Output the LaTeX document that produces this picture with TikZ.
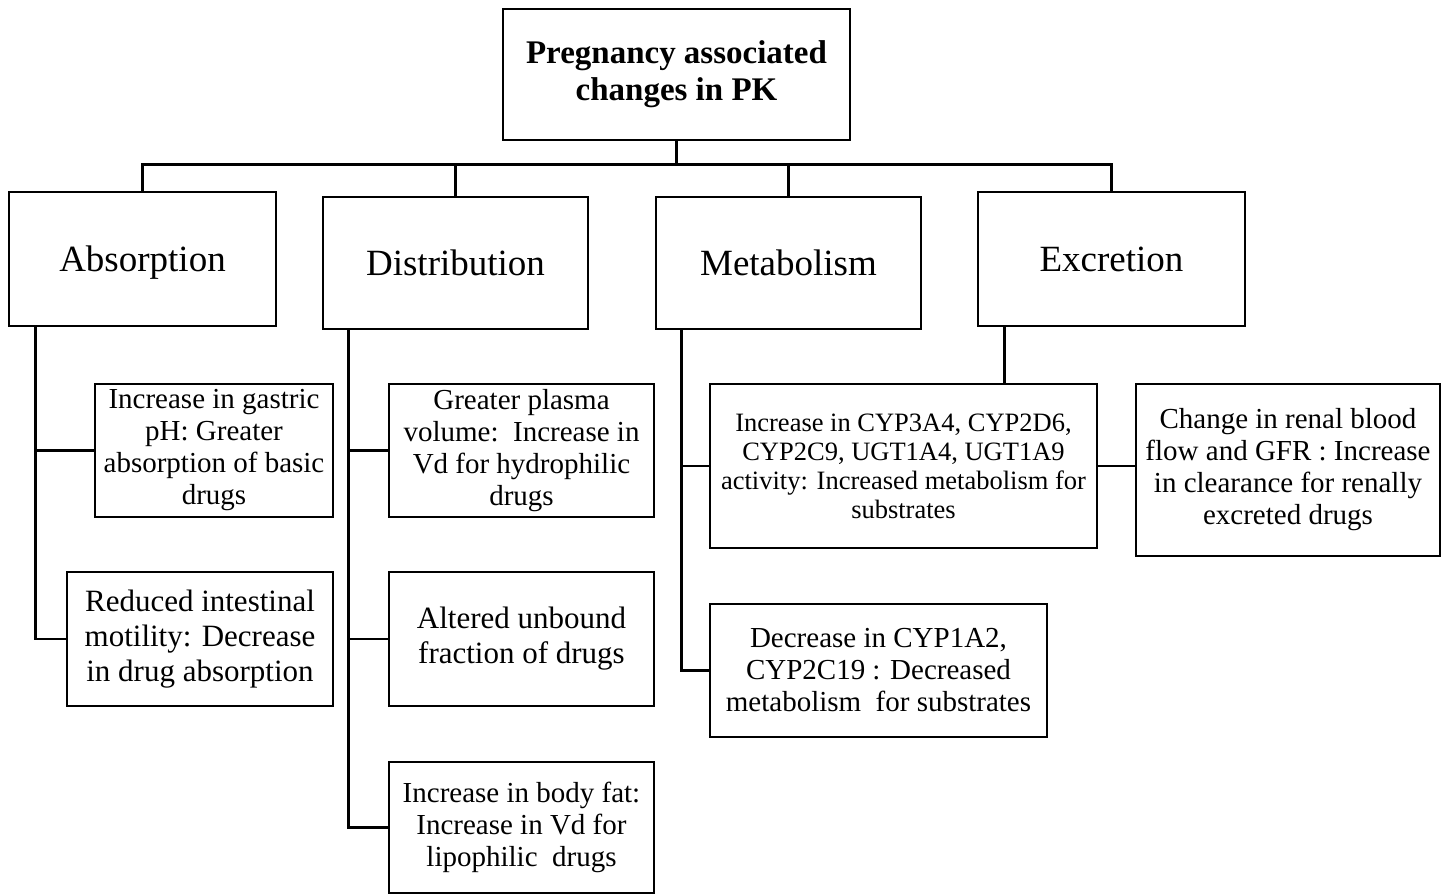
\documentclass[tikz,border=0pt]{standalone}
\usepackage{fontspec}
\setmainfont{Liberation Serif}
\usetikzlibrary{positioning}

\begin{document}
\begin{tikzpicture}[
  x=1pt, y=-1pt,
  line width=2.6pt,
  box/.style={draw, line width=2.6pt, align=center, inner sep=2pt},
  rootbox/.style={box, font=\fontsize{33}{37}\selectfont\bfseries},
  phasebox/.style={box, text depth=0pt, font=\fontsize{37}{42}\selectfont},
  notebox/.style={box, font=\fontsize{29}{32}\selectfont},
  bignote/.style={box, font=\fontsize{31}{35}\selectfont},
  smallnote/.style={box, font=\fontsize{26.5}{29}\selectfont}
]
\useasboundingbox (0,0) rectangle (1454,894);

% root and the four phases
\node[rootbox, minimum width=347pt, minimum height=131pt] (pk) at (676.5,74.5)
  {Pregnancy associated\\ changes in PK};
\node[phasebox, minimum width=267pt, minimum height=134pt] (abs) at (142.5,259) {Absorption};
\node[phasebox, minimum width=265pt, minimum height=132pt] (dist) at (455.5,263) {Distribution};
\node[phasebox, minimum width=265pt, minimum height=132pt] (met) at (788.5,263) {Metabolism};
\node[phasebox, minimum width=267pt, minimum height=134pt] (exc) at (1111.5,259) {Excretion};

% absorption
\node[notebox, minimum width=238pt, minimum height=133pt] (gastric) at (214,450.5)
  {Increase in gastric\\ pH: Greater\\ absorption of basic\\ drugs};
\node[bignote, minimum width=266pt, minimum height=134pt] (motility) at (200,639)
  {Reduced intestinal\\ motility: Decrease\\ in drug absorption};

% distribution
\node[notebox, minimum width=265pt, minimum height=133pt] (plasma) at (521.5,450.5)
  {Greater plasma\\ volume:\ \ Increase in\\ Vd for hydrophilic\\ drugs};
\node[bignote, minimum width=265pt, minimum height=134pt] (unbound) at (521.5,639)
  {Altered unbound\\ fraction of drugs};
\node[notebox, minimum width=265pt, minimum height=131pt] (fat) at (521.5,827.5)
  {Increase in body fat:\\ Increase in Vd for\\ lipophilic\ \ drugs};

% metabolism
\node[smallnote, minimum width=387pt, minimum height=164pt] (cypup) at (903.5,466)
  {Increase in CYP3A4, CYP2D6,\\ CYP2C9, UGT1A4, UGT1A9\\ activity: Increased metabolism for\\ substrates};
\node[notebox, minimum width=337pt, minimum height=133pt] (cypdown) at (878.5,670.5)
  {Decrease in CYP1A2,\\ CYP2C19 : Decreased\\ metabolism\ \ for substrates};

% excretion
\node[notebox, minimum width=304pt, minimum height=172pt] (renal) at (1288,470)
  {Change in renal blood\\ flow and GFR : Increase\\ in clearance for renally\\ excreted drugs};

% tree lines
\draw (pk.south) -- ++(0,23) coordinate (bus);
\draw (abs.north) |- (bus) -| (exc.north);
\draw (dist.north) |- (bus);
\draw (met.north) |- (bus);

\draw (abs.south west) ++(28,0) |- (gastric.west);
\draw (abs.south west) ++(28,0) |- (motility.west);

\draw (dist.south west) ++(27,0) |- (plasma.west);
\draw (dist.south west) ++(27,0) |- (unbound.west);
\draw (dist.south west) ++(27,0) |- (fat.west);

\draw (met.south west) ++(27,0) |- (cypup.west);
\draw (met.south west) ++(27,0) |- (cypdown.west);

\draw ([xshift=28pt]exc.south west) -- ([xshift=28pt]exc.south west |- cypup.north);
\draw (cypup.east) -- (cypup.east -| renal.west);
\end{tikzpicture}
\end{document}
